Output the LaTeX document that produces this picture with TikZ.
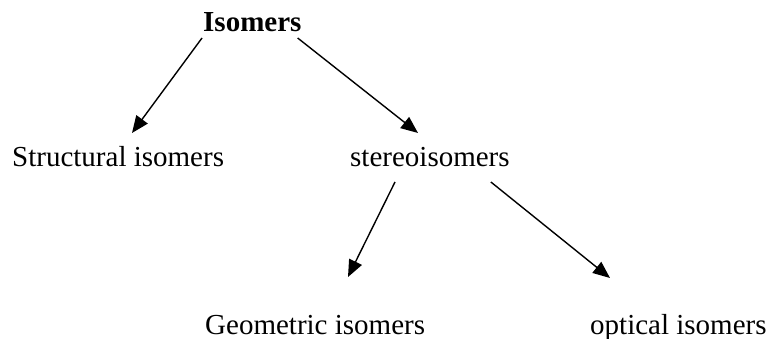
\documentclass[tikz,border=0pt]{standalone}
\usepackage{fontspec}
\setmainfont{Liberation Serif}
\usetikzlibrary{arrows.meta,calc}
\tikzset{
  lbl/.style={inner sep=0pt, anchor=base west, font=\fontsize{29}{34}\selectfont},
  conn/.style={line width=1.4pt, -{Triangle[length=17pt,width=14pt]}}
}
\begin{document}
\begin{tikzpicture}[x=1pt,y=-1pt]
\useasboundingbox (0,0) rectangle (767,339);
\node[lbl, font=\fontsize{29}{34}\selectfont\bfseries] (iso) at (203,32) {Isomers};
\node[lbl] (struct) at (12,167) {Structural isomers};
\node[lbl] (stereo) at (350,167) {stereoisomers};
\node[lbl] (geo) at (205,334) {Geometric isomers};
\node[lbl] (opt) at (590,334) {optical isomers};
\draw[conn] ($(iso.base west)+(-1,6)$) -- ($(struct.base west)+(120,-34)$);
\draw[conn] ($(iso.base east)+(-4,6)$) -- ($(stereo.base west)+(68,-34)$);
\draw[conn] ($(stereo.base west)+(45,15)$) -- ($(geo.base west)+(143,-57)$);
\draw[conn] ($(stereo.base east)+(-19,15)$) -- ($(opt.base west)+(20,-56)$);
\end{tikzpicture}
\end{document}
